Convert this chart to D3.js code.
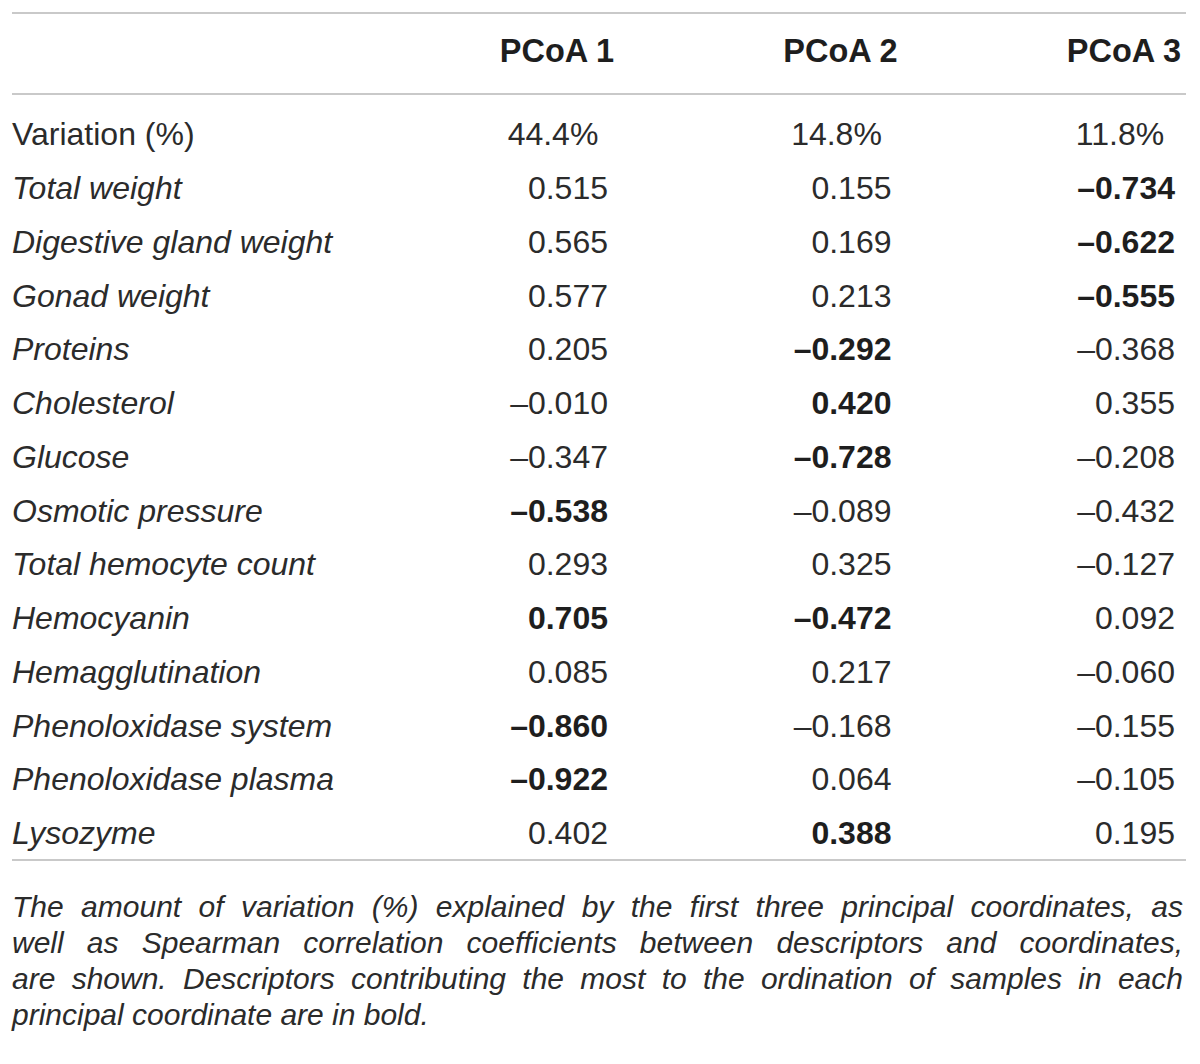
<!DOCTYPE html>
<html><head><meta charset="utf-8">
<script src="https://cdn.jsdelivr.net/npm/d3@7"></script>
<style>html,body{margin:0;padding:0;background:#fff;}svg{display:block;}</style>
</head><body>
<svg id="chart" width="1200" height="1064"></svg>
<script>
const columns = ["PCoA 1", "PCoA 2", "PCoA 3"];
const variation = ["44.4%", "14.8%", "11.8%"];
const descriptors = ["Total weight","Digestive gland weight","Gonad weight","Proteins","Cholesterol","Glucose","Osmotic pressure","Total hemocyte count","Hemocyanin","Hemagglutination","Phenoloxidase system","Phenoloxidase plasma","Lysozyme"];
const pcoa1 = [0.515, 0.565, 0.577, 0.205, -0.010, -0.347, -0.538, 0.293, 0.705, 0.085, -0.860, -0.922, 0.402];
const pcoa2 = [0.155, 0.169, 0.213, -0.292, 0.420, -0.728, -0.089, 0.325, -0.472, 0.217, -0.168, 0.064, 0.388];
const pcoa3 = [-0.734, -0.622, -0.555, -0.368, 0.355, -0.208, -0.432, -0.127, 0.092, -0.060, -0.155, -0.105, 0.195];
const bold1 = [0,0,0,0,0,0,1,0,1,0,1,1,0];
const bold2 = [0,0,0,1,1,1,0,0,1,0,0,0,1];
const bold3 = [1,1,1,0,0,0,0,0,0,0,0,0,0];
const captionLines = [
  "The amount of variation (%) explained by the first three principal coordinates, as",
  "well as Spearman correlation coefficients between descriptors and coordinates,",
  "are shown. Descriptors contributing the most to the ordination of samples in each",
  "principal coordinate are in bold."
];

const svg = d3.select("#chart");
const FONT = "'Liberation Sans', Arial, Helvetica, sans-serif";
const TXT = "#2b2b2b";
const LINE = "#c9c9c9";
const L = 12, R = 1186;

const series = [pcoa1, pcoa2, pcoa3];
const bolds = [bold1, bold2, bold3];
const rowKeys = ["Variation (%)"].concat(descriptors);

const x = d3.scalePoint().domain(columns).range([608, 1175]);
const y = d3.scalePoint().domain(rowKeys).range([134, 833]);

const fmt = v => (v < 0 ? "\u2013" : "") + Math.abs(v).toFixed(3);

// rules
[13, 94, 860].forEach(yy => {
  svg.append("line").attr("x1", L).attr("x2", R).attr("y1", yy).attr("y2", yy)
    .attr("stroke", LINE).attr("stroke-width", 2);
});

// header
svg.selectAll("text.hdr").data(columns).enter().append("text")
  .attr("class","hdr")
  .attr("x", d => x(d) - 51).attr("y", 51).attr("dy","0.35em")
  .attr("text-anchor","middle")
  .attr("font-family", FONT).attr("font-size", 32.5).attr("font-weight","bold")
  .attr("fill", "#1e1e1e").text(d => d);

// row labels
svg.selectAll("text.lbl").data(rowKeys).enter().append("text")
  .attr("class","lbl")
  .attr("x", L).attr("y", d => y(d)).attr("dy","0.35em")
  .attr("font-family", FONT).attr("font-size", 32)
  .attr("font-style", (d,i) => i === 0 ? "normal" : "italic")
  .attr("fill", TXT).text(d => d);

// variation row
svg.selectAll("text.var").data(variation).enter().append("text")
  .attr("class","var")
  .attr("x", (d,i) => x(columns[i]) - 55).attr("y", y("Variation (%)")).attr("dy","0.35em")
  .attr("text-anchor","middle")
  .attr("font-family", FONT).attr("font-size", 32)
  .attr("fill", TXT).text(d => d);

// values
series.forEach((vals, ci) => {
  svg.selectAll("text.v" + ci).data(vals).enter().append("text")
    .attr("class","v" + ci)
    .attr("x", x(columns[ci])).attr("y", (d,i) => y(descriptors[i])).attr("dy","0.35em")
    .attr("text-anchor","end")
    .attr("font-family", FONT).attr("font-size", 32)
    .attr("font-weight", (d,i) => bolds[ci][i] ? "bold" : "normal")
    .attr("fill", (d,i) => bolds[ci][i] ? "#1e1e1e" : TXT).text(d => fmt(d));
});

// caption, justified
const capY = d3.scalePoint().domain(d3.range(captionLines.length)).range([906, 1014]);
captionLines.forEach((line, li) => {
  const words = line.split(" ");
  const g = svg.append("text")
    .attr("font-family", FONT).attr("font-size", 30).attr("font-style","italic")
    .attr("fill", TXT).attr("y", capY(li)).attr("dy","0.35em");
  const spans = words.map(w => g.append("tspan").text(w));
  const widths = spans.map(s => s.node().getComputedTextLength());
  const total = d3.sum(widths);
  const last = li === captionLines.length - 1;
  const gap = last ? 8.3 : (R - 3 - L - total) / (words.length - 1);
  let cx = L;
  spans.forEach((s, i) => { s.attr("x", cx); cx += widths[i] + gap; });
});
</script>
</body></html>
